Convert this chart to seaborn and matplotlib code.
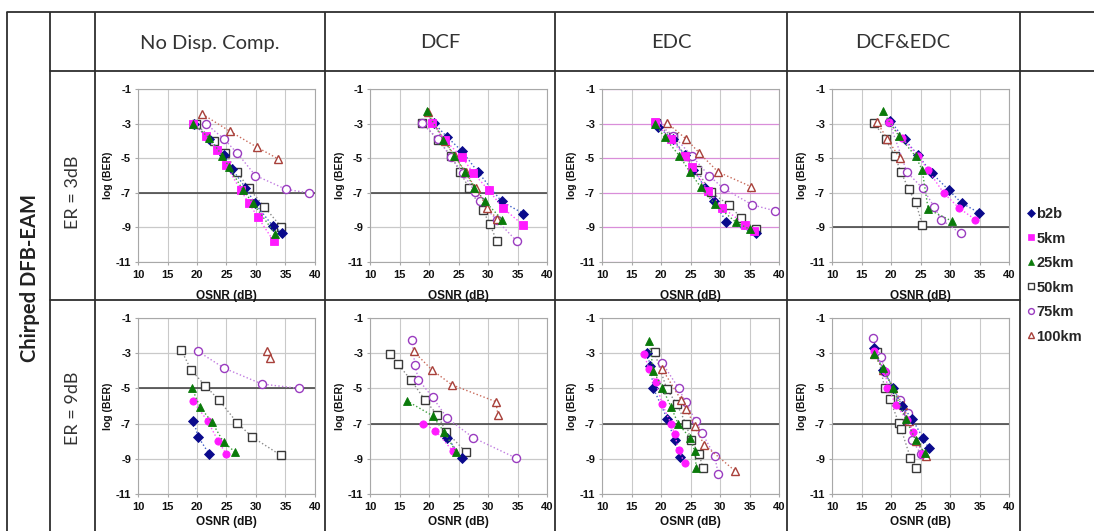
import matplotlib
matplotlib.use("Agg")
import matplotlib.pyplot as plt
from matplotlib.lines import Line2D
import pandas as pd
import seaborn as sns

W, H = 1094, 531

SERIES = ["b2b", "5km", "25km", "50km", "75km", "100km"]
COMPENSATION = ["No Disp. Comp.", "DCF", "EDC", "DCF&EDC"]
ER_LABELS = ["ER = 3dB", "ER = 9dB"]
ROW_TITLE = "Chirped DFB-EAM"
X_TICKS = [10, 15, 20, 25, 30, 35, 40]
Y_TICKS = [-1, -3, -5, -7, -9, -11]
X_LABEL = "OSNR (dB)"
Y_LABEL = "log (BER)"

# (OSNR [dB], log10 BER) measurements, ER = 3 dB
er3_nodc_b2b = [(19.5, -3.0), (22.0, -3.9), (24.6, -4.8), (25.9, -5.6), (28.2, -6.7), (29.8, -7.6), (32.8, -8.9), (34.4, -9.3)]
er3_nodc_5km = [(19.3, -3.0), (21.5, -3.7), (23.4, -4.5), (24.9, -5.4), (27.4, -6.85), (28.8, -7.6), (30.3, -8.4), (33.0, -9.8)]
er3_nodc_25km = [(19.4, -3.0), (22.1, -3.85), (24.3, -4.85), (25.4, -5.5), (27.8, -6.85), (29.5, -7.6), (33.3, -9.4)]
er3_nodc_50km = [(19.8, -3.0), (22.8, -4.0), (24.8, -4.7), (26.8, -5.8), (28.8, -6.75), (31.4, -7.8), (34.2, -8.95)]
er3_nodc_75km = [(21.5, -3.0), (24.6, -3.9), (26.8, -4.7), (29.9, -6.0), (35.1, -6.8), (38.9, -7.0)]
er3_nodc_100km = [(20.9, -2.45), (25.6, -3.45), (30.1, -4.35), (33.8, -5.05)]

er3_dcf_b2b = [(20.8, -2.95), (23.0, -3.75), (25.6, -4.6), (28.3, -5.8), (32.3, -7.5), (36.0, -8.2)]
er3_dcf_5km = [(20.5, -2.95), (22.7, -3.95), (25.6, -4.95), (27.5, -5.85), (30.1, -6.85), (32.6, -7.9), (35.9, -8.85)]
er3_dcf_25km = [(19.6, -2.3), (22.45, -3.95), (24.3, -4.85), (26.1, -5.8), (27.7, -6.7), (29.5, -7.5), (32.4, -8.55)]
er3_dcf_50km = [(18.8, -2.95), (21.6, -3.95), (23.75, -4.9), (25.3, -5.8), (26.8, -6.75), (29.1, -8.0), (30.3, -8.8), (31.5, -9.8)]
er3_dcf_75km = [(18.8, -2.95), (21.5, -3.9), (23.75, -4.95), (25.7, -5.85), (27.8, -6.95), (28.7, -7.5), (31.5, -8.6), (34.9, -9.8)]
er3_dcf_100km = [(19.8, -2.35), (22.7, -4.0), (24.4, -4.9), (26.2, -5.8), (27.9, -6.75), (29.9, -7.85), (31.5, -8.5)]

er3_edc_b2b = [(19.5, -3.2), (22.0, -3.9), (24.0, -4.8), (25.5, -5.7), (27.5, -6.7), (28.9, -7.45), (31.1, -8.7), (36.1, -9.35)]
er3_edc_5km = [(18.9, -2.9), (21.7, -3.9), (24.0, -4.9), (25.3, -5.5), (28.0, -6.9), (30.4, -7.85), (34.3, -8.85), (35.7, -9.2)]
er3_edc_25km = [(19.0, -3.0), (20.6, -3.8), (23.1, -4.85), (24.9, -5.8), (26.7, -6.65), (29.1, -7.65), (32.7, -8.7), (35.0, -9.1)]
er3_edc_50km = [(19.1, -2.95), (22.0, -3.8), (24.1, -4.9), (26.1, -5.7), (28.4, -6.95), (31.5, -7.7), (33.6, -8.45), (36.1, -9.1)]
er3_edc_75km = [(19.3, -2.95), (22.1, -3.7), (25.3, -4.9), (28.1, -6.0), (30.6, -6.75), (35.5, -7.7), (39.4, -8.05)]
er3_edc_100km = [(21.0, -2.95), (24.3, -3.9), (26.5, -4.7), (29.7, -5.8), (35.3, -6.65)]

er3_both_b2b = [(19.9, -2.85), (22.3, -3.9), (24.5, -4.8), (26.9, -5.85), (29.8, -6.85), (32.0, -7.6), (34.9, -8.15)]
er3_both_5km = [(19.6, -2.9), (21.9, -3.85), (24.6, -4.85), (26.3, -5.7), (28.9, -7.0), (31.6, -7.9), (34.3, -8.55)]
er3_both_25km = [(18.6, -2.3), (21.3, -3.7), (24.2, -4.9), (25.3, -5.7), (26.3, -7.95), (30.4, -8.65)]
er3_both_50km = [(17.1, -2.95), (19.1, -3.9), (20.6, -4.85), (21.7, -5.8), (23.0, -6.8), (24.2, -7.55), (25.3, -8.85)]
er3_both_75km = [(19.7, -2.9), (22.7, -5.8), (25.4, -6.75), (27.3, -7.8), (28.5, -8.55), (31.8, -9.35)]
er3_both_100km = [(17.6, -2.9), (19.4, -3.9), (21.5, -5.0)]

# (OSNR [dB], log10 BER) measurements, ER = 9 dB
er9_nodc_b2b = [(19.4, -6.85), (20.2, -7.75), (22.1, -8.75)]
er9_nodc_5km = [(19.25, -5.7), (21.8, -6.85), (23.6, -8.0), (25.0, -8.75)]
er9_nodc_25km = [(19.1, -4.95), (20.5, -6.05), (22.5, -6.9), (24.5, -8.05), (26.4, -8.6)]
er9_nodc_50km = [(17.3, -2.8), (19.0, -3.95), (21.4, -4.85), (23.7, -5.65), (26.8, -6.95), (29.3, -7.75), (34.2, -8.8)]
er9_nodc_75km = [(20.2, -2.9), (24.6, -3.85), (31.0, -4.75), (37.3, -5.0)]
er9_nodc_100km = [(31.9, -2.9), (32.3, -3.25)]

er9_dcf_b2b = [(23.1, -7.8), (25.6, -8.95)]
er9_dcf_5km = [(19.0, -7.0), (21.1, -7.4), (24.0, -8.55)]
er9_dcf_25km = [(16.2, -5.7), (20.6, -6.55), (22.5, -7.45), (24.6, -8.6)]
er9_dcf_50km = [(13.4, -3.05), (14.7, -3.6), (17.0, -4.55), (19.3, -5.65), (21.4, -6.5), (22.9, -7.45), (26.2, -8.6)]
er9_dcf_75km = [(17.1, -2.25), (17.6, -3.65), (18.2, -4.5), (20.6, -5.5), (23.1, -6.7), (27.5, -7.8), (34.7, -8.95)]
er9_dcf_100km = [(17.4, -2.9), (20.5, -3.95), (23.9, -4.8), (31.3, -5.75), (31.7, -6.5)]

er9_edc_b2b = [(17.6, -3.0), (18.2, -3.7), (18.7, -5.0), (21.1, -6.75), (22.3, -7.95), (23.3, -8.9)]
er9_edc_5km = [(17.1, -3.05), (18.0, -3.9), (19.1, -4.65), (20.2, -5.9), (21.7, -7.0), (22.3, -7.6), (23.0, -8.5), (24.0, -9.25)]
er9_edc_25km = [(18.0, -2.3), (18.7, -4.0), (20.2, -4.95), (21.7, -6.05), (22.9, -7.0), (24.9, -7.8), (25.7, -8.55), (26.0, -9.55)]
er9_edc_50km = [(18.9, -2.95), (21.0, -5.05), (22.7, -5.9), (24.2, -7.0), (25.1, -7.95), (26.5, -8.75), (27.1, -9.55)]
er9_edc_75km = [(20.2, -3.55), (23.0, -5.0), (24.2, -5.8), (25.9, -6.85), (27.0, -7.55), (29.1, -8.85), (29.7, -9.85)]
er9_edc_100km = [(20.2, -3.9), (23.4, -5.65), (24.3, -6.15), (25.7, -7.15), (27.3, -8.2), (32.6, -9.7)]

er9_both_b2b = [(17.1, -2.7), (18.7, -3.95), (20.4, -5.0), (21.9, -6.0), (23.6, -6.75), (25.4, -7.8), (26.4, -8.4)]
er9_both_5km = [(17.1, -2.9), (19.0, -4.0), (19.4, -4.95), (20.9, -5.95), (22.7, -6.8), (23.8, -7.5), (25.3, -8.7)]
er9_both_25km = [(17.1, -3.05), (18.6, -3.85), (20.3, -4.95), (22.5, -6.75), (24.2, -7.95), (25.7, -8.65)]
er9_both_50km = [(17.7, -2.95), (18.9, -4.95), (19.8, -5.6), (21.3, -6.95), (21.7, -7.3), (23.3, -8.95), (24.2, -9.5)]
er9_both_75km = [(17.0, -2.15), (18.3, -3.2), (19.0, -4.05), (20.2, -4.95), (21.6, -5.65), (22.9, -6.4), (23.6, -7.95), (25.0, -8.7)]
er9_both_100km = [(17.1, -3.05), (18.7, -3.95), (20.4, -4.95), (22.0, -5.95), (23.0, -6.85), (24.3, -8.0), (26.0, -8.85)]

PANEL_DATA = [
    [
        [er3_nodc_b2b, er3_nodc_5km, er3_nodc_25km, er3_nodc_50km, er3_nodc_75km, er3_nodc_100km],
        [er3_dcf_b2b, er3_dcf_5km, er3_dcf_25km, er3_dcf_50km, er3_dcf_75km, er3_dcf_100km],
        [er3_edc_b2b, er3_edc_5km, er3_edc_25km, er3_edc_50km, er3_edc_75km, er3_edc_100km],
        [er3_both_b2b, er3_both_5km, er3_both_25km, er3_both_50km, er3_both_75km, er3_both_100km],
    ],
    [
        [er9_nodc_b2b, er9_nodc_5km, er9_nodc_25km, er9_nodc_50km, er9_nodc_75km, er9_nodc_100km],
        [er9_dcf_b2b, er9_dcf_5km, er9_dcf_25km, er9_dcf_50km, er9_dcf_75km, er9_dcf_100km],
        [er9_edc_b2b, er9_edc_5km, er9_edc_25km, er9_edc_50km, er9_edc_75km, er9_edc_100km],
        [er9_both_b2b, er9_both_5km, er9_both_25km, er9_both_50km, er9_both_75km, er9_both_100km],
    ],
]

# level where each panel's horizontal axis crosses (drawn darker)
AXIS_CROSS = [[-7, -7, None, -9], [-5, -7, -7, -7]]

# marker styling per series
MARKER = {"b2b": "D", "5km": "s", "25km": "^", "50km": "s", "75km": "o", "100km": "^"}
FACE = {"b2b": "#0a0a8c", "5km": "#ff1aff", "25km": "#0a7a0a", "50km": "white", "75km": "white", "100km": "white"}
EDGE = {"b2b": "#0a0a8c", "5km": "#ff1aff", "25km": "#0a7a0a", "50km": "#3a3a3a", "75km": "#9a3cc0", "100km": "#a8403a"}
LINE = {"b2b": "#4060c8", "5km": "#ff50ff", "25km": "#40a040", "50km": "#8a8a8a", "75km": "#c07ce0", "100km": "#c86a5a"}
MSIZE = {"b2b": 4.6, "5km": 5.2, "25km": 5.4, "50km": 5.6, "75km": 5.8, "100km": 5.8}

sns.set_theme(style="white")
plt.rcParams["font.family"] = ["Liberation Sans", "DejaVu Sans"]
plt.rcParams["axes.unicode_minus"] = False

fig = plt.figure(figsize=(W / 100, H / 100), dpi=100)

# table frame drawn on a full-figure canvas in pixel units
bg = fig.add_axes([0, 0, 1, 1], zorder=-5)
bg.set_xlim(0, W)
bg.set_ylim(H, 0)
bg.axis("off")
TABLE_C = "#2e2e2e"
TABLE_LW = 1.3
for x in [7, 50, 95, 325, 555, 787, 1020]:
    bg.plot([x, x], [12, H + 2], color=TABLE_C, lw=TABLE_LW, solid_capstyle="butt")
bg.plot([7, W], [12, 12], color=TABLE_C, lw=TABLE_LW)
bg.plot([50, W], [71, 71], color=TABLE_C, lw=TABLE_LW)
bg.plot([50, 1020], [300, 300], color=TABLE_C, lw=TABLE_LW)

HEAD_FONT = ["Lato", "DejaVu Sans"]
for cx, name in zip([210, 440, 671, 903], COMPENSATION):
    bg.text(cx, 43, name, ha="center", va="center", fontsize=14.5,
            color="#333333", family=HEAD_FONT)
bg.text(30, 278, ROW_TITLE, rotation=90, ha="center", va="center",
        fontsize=14.5, fontweight="bold", color="#222222", family=HEAD_FONT)
for cy, name in zip([192, 408], ER_LABELS):
    bg.text(73, cy, name, rotation=90, ha="center", va="center",
            fontsize=13, color="#333333", family=HEAD_FONT)

AX_LEFT = [138, 370, 602, 832]
AX_W = 177
ROW_TOP = [89, 318]
ROW_H = [173, 176]
XLABEL_GAP = [28, 22]

for r in range(2):
    for c in range(4):
        left, top, h = AX_LEFT[c], ROW_TOP[r], ROW_H[r]
        ax = fig.add_axes([left / W, 1 - (top + h) / H, AX_W / W, h / H])
        ax.set_facecolor("white")
        ax.set_xlim(10, 40)
        ax.set_ylim(-11, -1)
        ax.set_xticks(X_TICKS)
        ax.set_yticks(Y_TICKS)
        ax.xaxis.grid(True, color="#c9c9c9", lw=0.8)
        ygrid = "#d98ed9" if (r == 0 and c == 2) else "#c9c9c9"
        ax.yaxis.grid(True, color=ygrid, lw=0.9)
        ax.set_axisbelow(True)
        cross = AXIS_CROSS[r][c]
        if cross is not None:
            ax.axhline(cross, color="#3c3c3c", lw=1.1, zorder=1)
        for sp in ax.spines.values():
            sp.set_color("#a8a8a8")
            sp.set_linewidth(0.8)

        for name, pts in zip(SERIES, PANEL_DATA[r][c]):
            df = pd.DataFrame(pts, columns=["osnr", "logber"])
            marker = MARKER[name]
            if name == "5km" and not (r == 0 and c < 3):
                marker = "o"
            open_marker = FACE[name] == "white"
            sns.lineplot(data=df, x="osnr", y="logber", ax=ax, sort=False,
                         estimator=None, color=LINE[name], linestyle=":",
                         linewidth=1.0, marker=marker, markersize=MSIZE[name],
                         markerfacecolor=FACE[name], markeredgecolor=EDGE[name],
                         markeredgewidth=1.0 if open_marker else 0.6,
                         zorder=3 if open_marker else 4, legend=False)

        ax.tick_params(axis="both", which="both", length=2, width=0.8,
                       color="#a8a8a8", labelsize=8, labelcolor="#111111",
                       bottom=True, left=True)
        ax.tick_params(axis="x", pad=4)
        ax.tick_params(axis="y", pad=3)
        for lab in ax.get_xticklabels() + ax.get_yticklabels():
            lab.set_fontweight("bold")
        ax.set_xlabel(X_LABEL, fontsize=8.5, fontweight="bold", color="#111111")
        ax.set_ylabel(Y_LABEL, fontsize=7.5, fontweight="bold", color="#111111")
        ax.xaxis.set_label_coords(0.5, -XLABEL_GAP[r] / h)
        ax.yaxis.set_label_coords(-25 / AX_W, 0.5)

# legend for the six fibre lengths
handles = []
for name in SERIES:
    open_marker = FACE[name] == "white"
    handles.append(Line2D([], [], linestyle="none", marker=MARKER[name],
                          markersize=4.2, markerfacecolor=FACE[name],
                          markeredgecolor=EDGE[name],
                          markeredgewidth=1.0 if open_marker else 0.5))
fig.legend(handles, SERIES, loc="upper left", bbox_to_anchor=(1027 / W, 1 - 207 / H),
           frameon=False, handlelength=0.5, handletextpad=0.15, labelspacing=0.72,
           borderpad=0, borderaxespad=0,
           prop={"family": "Liberation Sans", "weight": "bold", "size": 10.5})

fig.savefig("out.png", dpi=100)
